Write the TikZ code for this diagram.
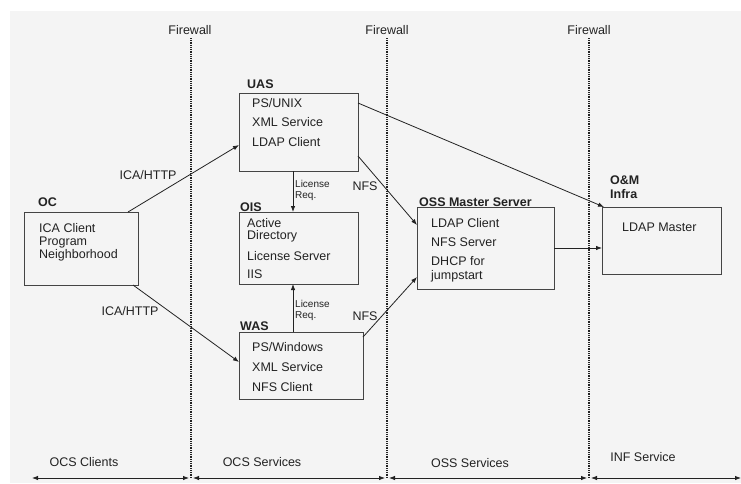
\documentclass[tikz,border=0pt]{standalone}
\usepackage{fontspec}
\setmainfont{Liberation Sans}
\usetikzlibrary{arrows.meta}
\definecolor{bggray}{HTML}{F4F4F4}
\definecolor{ink}{HTML}{222222}
\definecolor{edge}{HTML}{444444}
\begin{document}
\begin{tikzpicture}[x=1pt,y=-1pt,
  box/.style={draw=edge,line width=0.9pt,anchor=north west,inner sep=0pt,outer sep=0pt},
  txt/.style={anchor=base west,inner sep=0pt,text=ink,font=\fontsize{12.5}{13}\selectfont},
  ttl/.style={txt,font=\fontsize{12.5}{13}\selectfont\bfseries},
  lbl/.style={inner sep=0pt,text=ink,font=\fontsize{12.5}{13}\selectfont},
  small/.style={inner sep=0pt,text=ink,anchor=west,align=left,font=\fontsize{10}{11}\selectfont},
  link/.style={draw=ink,line width=0.8pt,-{Latex[length=6pt,width=4.5pt]}},
  span/.style={draw=ink,line width=0.8pt,{Latex[length=6pt,width=4.5pt]}-{Latex[length=6pt,width=4.5pt]}},
  wall/.style={draw=ink,line width=1.3pt,dash pattern=on 1pt off 0.8pt}]

\useasboundingbox (0,0) rectangle (741,483);
\fill[white] (0,0) rectangle (741,483);
\fill[bggray] (10,11) rectangle (741,483);

% firewalls
\node[lbl] (fwl1) at (190,30) {Firewall};
\node[lbl] (fwl2) at (387,30) {Firewall};
\node[lbl] (fwl3) at (589,30) {Firewall};
\coordinate (fw1t) at (191,38); \coordinate (fw1b) at (191,478);
\coordinate (fw2t) at (387,38); \coordinate (fw2b) at (387,478);
\coordinate (fw3t) at (589,38); \coordinate (fw3b) at (589,478);
\draw[wall] (fw1t) -- (fw1b);
\draw[wall] (fw2t) -- (fw2b);
\draw[wall] (fw3t) -- (fw3b);

% boxes
\node[box,minimum width=114pt,minimum height=73pt] (oc) at (24,212) {};
\node[box,minimum width=119pt,minimum height=78pt] (uas) at (239,93) {};
\node[box,minimum width=119pt,minimum height=72pt] (ois) at (239,212) {};
\node[box,minimum width=124pt,minimum height=67pt] (was) at (239,332) {};
\node[box,minimum width=137pt,minimum height=82pt] (oss) at (417,207) {};
\node[box,minimum width=119pt,minimum height=67pt] (om) at (602,207) {};

% titles
\node[ttl] (ocT) at (38,206.5) {OC};
\node[ttl] (uasT) at (247,88) {UAS};
\node[ttl] (oisT) at (240,211) {OIS};
\node[ttl] (wasT) at (240,330.5) {WAS};
\node[ttl] (ossT) at (419,206.5) {OSS Master Server};
\node[ttl] (omT1) at (610,184.5) {O\&M};
\node[ttl] (omT2) at (610,198.5) {Infra};

% box contents
\node[txt] (oc1) at (39,232.5) {ICA Client};
\node[txt] (oc2) at (39,245.5) {Program};
\node[txt] (oc3) at (39,258.5) {Neighborhood};

\node[txt] (uas1) at (252,107.5) {PS/UNIX};
\node[txt] (uas2) at (252,126.5) {XML Service};
\node[txt] (uas3) at (252,146.5) {LDAP Client};

\node[txt] (ois1) at (247,227.5) {Active};
\node[txt] (ois2) at (247,239.5) {Directory};
\node[txt] (ois3) at (247,260.5) {License Server};
\node[txt] (ois4) at (247,278.5) {IIS};

\node[txt] (was1) at (252,351.5) {PS/Windows};
\node[txt] (was2) at (252,371.5) {XML Service};
\node[txt] (was3) at (252,391.5) {NFS Client};

\node[txt] (oss1) at (431,227.5) {LDAP Client};
\node[txt] (oss2) at (431,246.5) {NFS Server};
\node[txt] (oss3) at (431,265.5) {DHCP for};
\node[txt] (oss4) at (431,279.5) {jumpstart};

\node[txt] (om1) at (622,231.5) {LDAP Master};

% connectors
\draw[link] ([xshift=104pt]oc.north west) -- ([yshift=-52pt]uas.north west);
\draw[link] ([xshift=109pt]oc.south west) -- ([yshift=-30pt]was.north west);
\draw[link] ([xshift=54pt]uas.south west) -- ([xshift=54pt]ois.north west);
\draw[link] ([xshift=54pt]was.north west) -- ([xshift=54pt]ois.south west);
\draw[link] ([yshift=-63pt]uas.north east) -- ([yshift=-18pt]oss.north west);
\draw[link] ([yshift=-5pt]was.north east) -- ([yshift=-70pt]oss.north west);
\draw[link] ([yshift=-10pt]uas.north east) -- ([xshift=2pt]om.north west);
\draw[link] ([yshift=-41pt]oss.north east) -- ([yshift=-41pt]om.north west);

% connector labels
\node[lbl] (ica1) at (148,175) {ICA/HTTP};
\node[lbl] (ica2) at (130,311) {ICA/HTTP};
\node[lbl] (nfs1) at (365,186) {NFS};
\node[lbl] (nfs2) at (365,316) {NFS};
\node[small] (lic1) at (295,190.5) {License\\Req.};
\node[small] (lic2) at (295,310.5) {License\\Req.};

% zones along the bottom
\coordinate (zl) at (32,478);
\coordinate (zr) at (741,478);
\draw[span] (zl) -- ([xshift=-2pt]fw1b);
\draw[span] ([xshift=2pt]fw1b) -- ([xshift=-2pt]fw2b);
\draw[span] ([xshift=2pt]fw2b) -- ([xshift=-2pt]fw3b);
\draw[span] ([xshift=2pt]fw3b) -- (zr);

\node[lbl] (z1) at (84,462) {OCS Clients};
\node[lbl] (z2) at (262,462) {OCS Services};
\node[lbl] (z3) at (470,463) {OSS Services};
\node[lbl] (z4) at (643,457) {INF Service};
\end{tikzpicture}
\end{document}
